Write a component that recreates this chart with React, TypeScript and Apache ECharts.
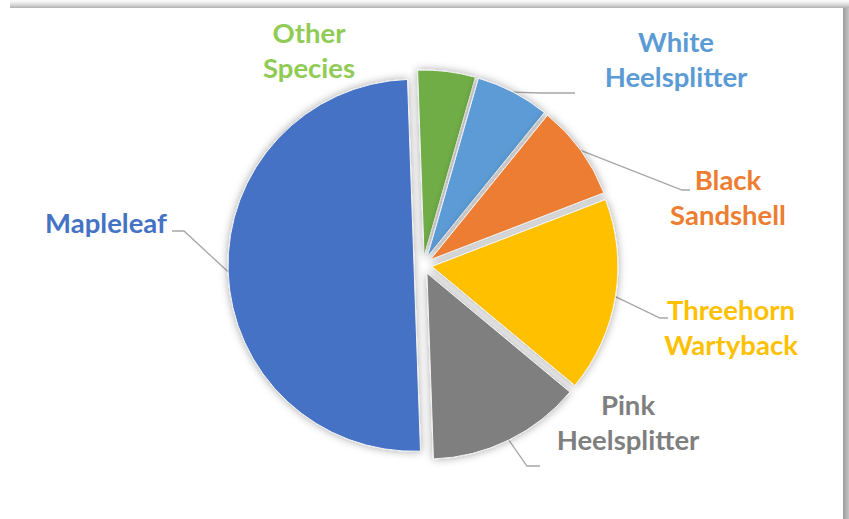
import React, { useEffect, useRef } from "react";
import * as echarts from "echarts";

const categories = [
  "Other\nSpecies",
  "White\nHeelsplitter",
  "Black\nSandshell",
  "Threehorn\nWartyback",
  "Pink\nHeelsplitter",
  "Mapleleaf",
];
const shares = [5.0, 6.4, 8.3, 16.9, 13.4, 50.0];
const sliceColors = ["#70AD47", "#5B9BD5", "#ED7D31", "#FFC000", "#7F7F7F", "#4472C4"];
const labelColors = ["#8FCB55", "#5B9BD5", "#ED7D31", "#FFC000", "#7F7F7F", "#4472C4"];

// layout only
const PIE_CENTER = [423, 265];
const PIE_RADIUS = 186;
const START_ANGLE = 92;
const EXPLODE = 9;
const labelCenters: number[][] = [
  [309, 50],
  [676, 59],
  [728, 197],
  [731, 327],
  [628, 422],
  [106, 222],
];
const leaderTails: (number[][] | null)[] = [
  null,
  [[540, 93], [575, 93]],
  [[682, 190], [690, 190]],
  [[660, 318], [668, 318]],
  [[527, 466], [540, 466]],
  [[184, 231], [172, 231]],
];

export default function App() {
  const ref = useRef<HTMLDivElement>(null);
  useEffect(() => {
    if (!ref.current) return;
    const chart = echarts.init(ref.current, null, { renderer: "svg" });
    const total = shares.reduce((a, b) => a + b, 0);
    let cum = 0;
    const series = shares.map((v, k) => {
      const midDeg = START_ANGLE - ((cum + v / 2) / total) * 360;
      cum += v;
      const mid = (midDeg * Math.PI) / 180;
      const cx = PIE_CENTER[0] + Math.cos(mid) * EXPLODE;
      const cy = PIE_CENTER[1] - Math.sin(mid) * EXPLODE;
      return {
        type: "pie",
        center: [cx, cy],
        radius: PIE_RADIUS,
        startAngle: START_ANGLE,
        clockwise: true,
        avoidLabelOverlap: false,
        silent: true,
        emphasis: { disabled: true },
        label: {
          show: true,
          position: "outside",
          fontFamily: "Lato",
          fontWeight: "bold",
          fontSize: 27.5,
          lineHeight: 35,
          align: "center",
        },
        labelLine: {
          show: true,
          length: 10,
          length2: 10,
          lineStyle: { color: "#A6A6A6", width: 1.3 },
        },
        labelLayout: (params: any) => {
          const i = params.dataIndex;
          const c = labelCenters[i];
          const tail = leaderTails[i];
          const out: any = { x: c[0], y: c[1], align: "center", verticalAlign: "middle" };
          if (tail && params.labelLinePoints && params.labelLinePoints[0]) {
            out.labelLinePoints = [params.labelLinePoints[0], tail[0], tail[1]];
          }
          return out;
        },
        data: categories.map((name, i) => {
          const mine = i === k;
          return {
            name,
            value: shares[i],
            itemStyle: mine
              ? {
                  color: sliceColors[i],
                  borderColor: "#f4f4f4",
                  borderWidth: 1,
                  shadowBlur: 8,
                  shadowColor: "rgba(0,0,0,0.35)",
                }
              : { color: "rgba(0,0,0,0)", borderWidth: 0, shadowBlur: 0 },
            label: mine ? { show: true, color: labelColors[i] } : { show: false },
            labelLine: { show: mine && leaderTails[i] !== null },
          };
        }),
      };
    });
    chart.setOption({
      animation: false,
      backgroundColor: "#ffffff",
      graphic: [
        {
          type: "rect",
          shape: { x: 10, y: 0, width: 839, height: 8 },
          style: {
            fill: new echarts.graphic.LinearGradient(0, 0, 0, 1, [
              { offset: 0, color: "rgba(235,235,235,0.2)" },
              { offset: 1, color: "rgba(175,175,175,1)" },
            ]),
          },
        },
        {
          type: "rect",
          shape: { x: 843, y: 8, width: 6, height: 511 },
          style: {
            fill: new echarts.graphic.LinearGradient(0, 0, 1, 0, [
              { offset: 0, color: "#9c9c9c" },
              { offset: 1, color: "#c4c4c4" },
            ]),
          },
        },
      ],
      series,
    });
    return () => chart.dispose();
  }, []);
  return (
    <div
      ref={ref}
      style={{ position: "fixed", left: 0, top: 0, width: 849, height: 519 }}
    />
  );
}
